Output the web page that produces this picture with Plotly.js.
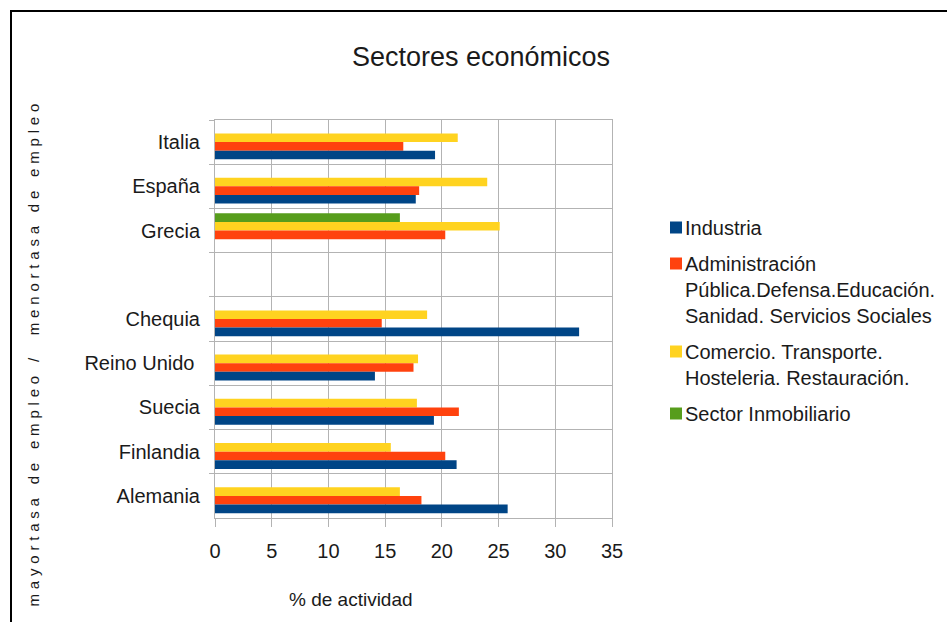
<!DOCTYPE html>
<html>
<head>
<meta charset="utf-8">
<script src="https://cdn.plot.ly/plotly-3.0.1.min.js"></script>
<style>
  html, body { margin: 0; padding: 0; background: #fff; }
  #wrap { position: relative; width: 947px; height: 622px; overflow: hidden; }
  #chart { width: 947px; height: 622px; }
  #frame { position: absolute; left: 10px; top: 10px; width: 960px; height: 640px;
           border-top: 2px solid #000; border-left: 2px solid #000; pointer-events: none; }
  .annotation[data-index="1"] text { letter-spacing: 4.8px; }
  .legend .legendpoints { transform: translate(11px, 0px); }
</style>
</head>
<body>
<div id="wrap">
  <div id="chart"></div>
  <div id="frame"></div>
</div>
<script>
const countries = ["Italia", "España", "Grecia", " ", "Chequia", "Reino Unido\u00a0", "Suecia", "Finlandia", "Alemania"];
const industria = [19.4, 17.7, null, null, 32.1, 14.1, 19.3, 21.3, 25.8];
const administracion = [16.6, 18.0, 20.3, null, 14.7, 17.5, 21.5, 20.3, 18.2];
const comercio = [21.4, 24.0, 25.1, null, 18.7, 17.9, 17.8, 15.5, 16.3];
const inmobiliario = [null, null, 16.3, null, null, null, null, null, null];
const seriesNames = [
  "Industria",
  "Administración<br>Pública.Defensa.Educación.<br>Sanidad. Servicios Sociales",
  "Comercio. Transporte.<br>Hosteleria. Restauración.",
  "Sector Inmobiliario"
];
const xTicks = [0, 5, 10, 15, 20, 25, 30, 35];

const colors = ["#004586", "#ff420e", "#ffd320", "#579d1c"];
const values = [industria, administracion, comercio, inmobiliario];

const FONT = "'Liberation Sans', Arial, sans-serif";

// Draw in reverse order so that Industria sits at the bottom of each group
// (category axis runs top-to-bottom); legendrank keeps Industria first in the legend.
const traces = values.map((v, i) => ({
  type: "bar",
  orientation: "h",
  name: seriesNames[i],
  x: v,
  y: countries,
  marker: { color: colors[i], line: { width: 0 } },
  legendgroup: "g" + i,
  legendrank: i + 1,
  hoverinfo: "x+name"
})).reverse();

const W = 947, H = 622;
const L = 215, R = 611.7, T = 120, B = 518.3;

const layout = {
  width: W, height: H,
  paper_bgcolor: "#fff",
  plot_bgcolor: "#fff",
  margin: { l: L, r: W - R, t: T, b: H - B, pad: 0 },
  font: { family: FONT, size: 20, color: "#1a1a1a" },
  title: {
    text: "Sectores económicos",
    font: { family: FONT, size: 27, color: "#1a1a1a" },
    xref: "container", yref: "container",
    x: 481 / W, xanchor: "center",
    y: 1 - 57 / H, yanchor: "middle"
  },
  barmode: "group",
  bargap: 0.22,
  bargroupgap: 0,
  showlegend: true,
  legend: {
    xref: "container", yref: "container",
    x: 645 / W, xanchor: "left",
    y: 1 - 208 / H, yanchor: "top",
    traceorder: "grouped",
    tracegroupgap: 7,
    itemwidth: 30,
    valign: "top",
    font: { family: FONT, size: 20, color: "#1a1a1a" },
    bgcolor: "rgba(0,0,0,0)"
  },
  xaxis: {
    range: [0, 35],
    tickvals: xTicks,
    ticktext: xTicks.map(String),
    showgrid: true, gridcolor: "#b3b3b3", gridwidth: 1,
    zeroline: false,
    showline: true, linecolor: "#b3b3b3", linewidth: 1, mirror: true,
    ticks: "outside", ticklen: 8, tickcolor: "#b3b3b3",
    ticklabelstandoff: 7,
    tickfont: { family: FONT, size: 20, color: "#1a1a1a" },
    fixedrange: true
  },
  yaxis: {
    type: "category",
    categoryorder: "array",
    categoryarray: countries,
    range: [countries.length - 0.5, -0.5],
    tickson: "boundaries",
    showgrid: true, gridcolor: "#b3b3b3", gridwidth: 1,
    showline: true, linecolor: "#b3b3b3", linewidth: 1, mirror: true,
    ticks: "outside", ticklen: 5, tickcolor: "#b3b3b3",
    ticklabelstandoff: 10,
    tickfont: { family: FONT, size: 20, color: "#1a1a1a" },
    automargin: false,
    fixedrange: true
  },
  annotations: [{
    text: "% de actividad",
    xref: "paper", yref: "paper",
    x: (351 - L) / (R - L), y: (B - 600) / (B - T),
    xanchor: "center", yanchor: "middle",
    showarrow: false,
    font: { family: FONT, size: 19, color: "#1a1a1a" }
  }, {
    text: "mayortasa de empleo /\u00a0\u00a0menortasa de empleo",
    xref: "paper", yref: "paper",
    x: (34 - L) / (R - L), y: (B - 353) / (B - T),
    xanchor: "center", yanchor: "middle",
    textangle: -90,
    showarrow: false,
    font: { family: FONT, size: 15, color: "#1a1a1a" }
  }]
};

Plotly.newPlot("chart", traces, layout, { displayModeBar: false, staticPlot: true });
</script>
</body>
</html>
